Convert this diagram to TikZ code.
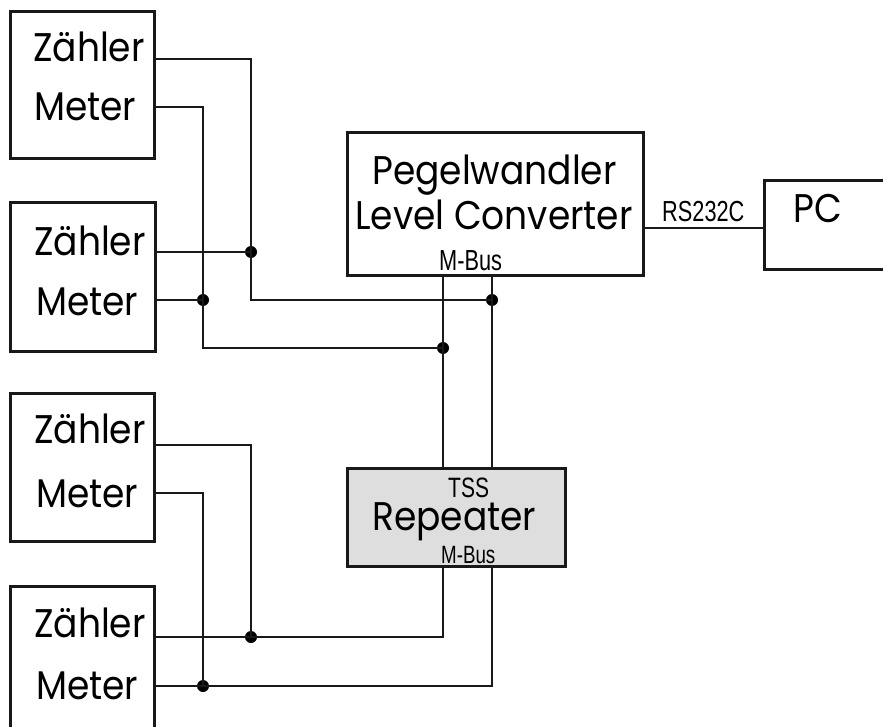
\documentclass[tikz,border=0pt]{standalone}
\usepackage{fontspec}
\setmainfont[FakeStretch=0.9]{Poppins}
\newfontfamily\narrowfont[FakeStretch=0.75]{Liberation Sans}
\begin{document}
\begin{tikzpicture}[x=1pt,y=-1pt,
  box/.style={draw=black!90,line width=3pt,inner sep=0pt},
  wire/.style={line width=2pt,black!90},
  jdot/.style={circle,fill=black,inner sep=0pt,minimum size=12pt},
  big/.style={font=\fontsize{40}{42}\selectfont,inner sep=0pt,anchor=base west},
  small/.style={font=\narrowfont\fontsize{29}{30}\selectfont,inner sep=0pt,anchor=base west}]
\useasboundingbox (0,0) rectangle (883,727);
% meter boxes
\node[box,minimum width=144pt,minimum height=147pt] (b1) at (82,85.5) {};
\node[box,minimum width=145pt,minimum height=148pt] (b2) at (82.5,277) {};
\node[box,minimum width=144pt,minimum height=148pt] (b3) at (82,467) {};
\node[box,minimum width=144pt,minimum height=160pt] (b4) at (82,666) {};
\node[big] (t1z) at (33,62) {Zähler};
\node[big] (t1m) at (34,121) {Meter};
\node[big] (t2z) at (34,255) {Zähler};
\node[big] (t2m) at (36,316) {Meter};
\node[big] (t3z) at (34,443) {Zähler};
\node[big] (t3m) at (36,507) {Meter};
\node[big] (t4z) at (34,637) {Zähler};
\node[big] (t4m) at (36,699) {Meter};
% level converter
\node[box,minimum width=296pt,minimum height=143pt] (lc) at (495,204.5) {};
\node[big] (tlc1) at (372,185) {Pegelwandler};
\node[big] (tlc2) at (355,230) {Level Converter};
\node[small] (tlcm) at (439,271) {M-Bus};
% PC
\node[box,minimum width=150pt,minimum height=89pt] (pc) at (839,225.5) {};
\node[big] (tpc) at (793,223) {PC};
\node[small] (trs) at (662,222) {RS232C};
% repeater
\node[box,fill=black!13,minimum width=218pt,minimum height=98pt] (rp) at (456,517) {};
\node[small,font=\narrowfont\fontsize{28}{30}\selectfont] (trt) at (448,497) {TSS};
\node[big] (trp) at (372,530) {Repeater};
\node[small,font=\narrowfont\fontsize{25}{30}\selectfont] (trm) at (441,563) {M-Bus};
% ports
\coordinate (p1z) at (154,59);   \coordinate (p1m) at (154,107);
\coordinate (p2z) at (155,252);  \coordinate (p2m) at (155,300);
\coordinate (p3z) at (154,445);  \coordinate (p3m) at (154,493);
\coordinate (p4z) at (154,637);  \coordinate (p4m) at (154,686);
\coordinate (lca) at (443,276);  \coordinate (lcb) at (492,276);
\coordinate (rpta) at (443,468); \coordinate (rptb) at (492,468);
\coordinate (rpba) at (443,566); \coordinate (rpbb) at (492,566);
\coordinate (lce) at (643,228);  \coordinate (pcw) at (764,228);
% junctions
\node[jdot] (j1) at (251,252) {};
\node[jdot] (j2) at (203,300) {};
\node[jdot] (j3) at (492,300) {};
\node[jdot] (j4) at (443,348) {};
\node[jdot] (j5) at (251,637) {};
\node[jdot] (j6) at (203,686) {};
% wires
\draw[wire] (p1z) -| (j1.center) |- (j3.center);
\draw[wire] (p1m) -| (j2.center) |- (j4.center);
\draw[wire] (p2z) -- (j1.center);
\draw[wire] (p2m) -- (j2.center);
\draw[wire] (lca) -- (rpta);
\draw[wire] (lcb) -- (rptb);
\draw[wire] (lce) -- (pcw);
\draw[wire] (p3z) -| (j5.center);
\draw[wire] (p3m) -| (j6.center);
\draw[wire] (p4z) -| (rpba);
\draw[wire] (p4m) -| (rpbb);
\end{tikzpicture}
\end{document}
